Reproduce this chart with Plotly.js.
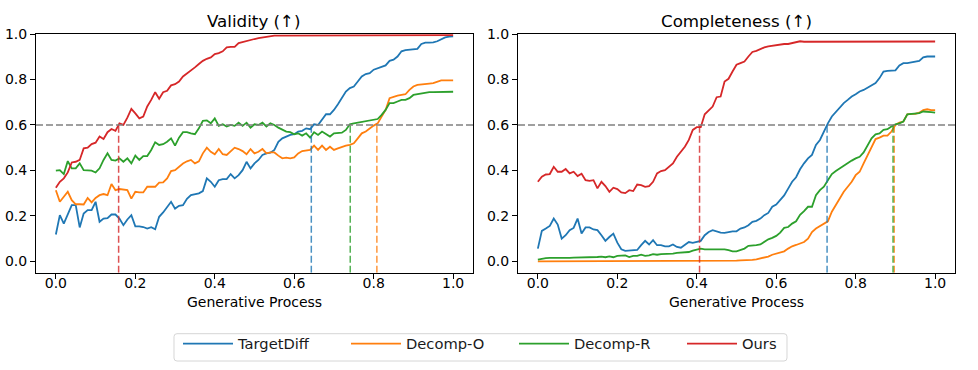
<!DOCTYPE html>
<html>
<head>
<meta charset="utf-8">
<script src="https://cdn.plot.ly/plotly-3.0.1.min.js"></script>
<style>html,body{margin:0;padding:0;background:#fff;}#chart{width:978px;height:370px;}</style>
</head>
<body>
<div id="chart"></div>
<script>
// Generative process steps
var steps = [0,0.01,0.02,0.03,0.04,0.05,0.06,0.07,0.08,0.09,0.1,0.11,0.12,0.13,0.14,0.15,0.16,0.17,0.18,0.19,0.2,0.21,0.22,0.23,0.24,0.25,0.26,0.27,0.28,0.29,0.3,0.31,0.32,0.33,0.34,0.35,0.36,0.37,0.38,0.39,0.4,0.41,0.42,0.43,0.44,0.45,0.46,0.47,0.48,0.49,0.5,0.51,0.52,0.53,0.54,0.55,0.56,0.57,0.58,0.59,0.6,0.61,0.62,0.63,0.64,0.65,0.66,0.67,0.68,0.69,0.7,0.71,0.72,0.73,0.74,0.75,0.76,0.77,0.78,0.79,0.8,0.81,0.82,0.83,0.84,0.85,0.86,0.87,0.88,0.89,0.9,0.91,0.92,0.93,0.94,0.95,0.96,0.97,0.98,0.99,1.0];

var methods = ["TargetDiff", "Decomp-O", "Decomp-R", "Ours"];
var colors = ["#1f77b4", "#ff7f0e", "#2ca02c", "#d62728"];

// Validity
var validityTargetDiff = [0.118,0.203,0.166,0.21,0.247,0.247,0.149,0.21,0.225,0.225,0.262,0.174,0.188,0.19,0.206,0.206,0.188,0.159,0.184,0.203,0.154,0.154,0.151,0.144,0.15,0.141,0.196,0.215,0.24,0.262,0.232,0.244,0.247,0.275,0.291,0.294,0.299,0.309,0.365,0.35,0.328,0.357,0.362,0.362,0.384,0.365,0.379,0.401,0.438,0.409,0.431,0.446,0.468,0.475,0.478,0.49,0.526,0.541,0.549,0.556,0.559,0.571,0.574,0.585,0.581,0.603,0.6,0.625,0.647,0.647,0.666,0.691,0.718,0.747,0.762,0.769,0.791,0.813,0.824,0.828,0.843,0.85,0.857,0.862,0.882,0.887,0.901,0.924,0.929,0.931,0.932,0.935,0.956,0.962,0.962,0.963,0.968,0.975,0.985,0.988,0.99];
var validityDecompO = [0.313,0.262,0.284,0.306,0.269,0.251,0.251,0.25,0.279,0.259,0.279,0.291,0.296,0.291,0.34,0.313,0.318,0.316,0.313,0.276,0.306,0.303,0.303,0.328,0.328,0.328,0.346,0.347,0.365,0.397,0.401,0.416,0.43,0.44,0.446,0.431,0.44,0.475,0.5,0.482,0.471,0.494,0.471,0.468,0.482,0.5,0.494,0.485,0.471,0.494,0.475,0.482,0.494,0.475,0.479,0.479,0.465,0.453,0.456,0.453,0.457,0.475,0.485,0.487,0.49,0.509,0.49,0.509,0.49,0.504,0.49,0.497,0.504,0.509,0.512,0.519,0.541,0.563,0.571,0.585,0.597,0.607,0.637,0.666,0.718,0.725,0.729,0.732,0.735,0.754,0.769,0.776,0.779,0.781,0.782,0.784,0.791,0.796,0.796,0.796,0.796];
var validityDecompR = [0.399,0.401,0.384,0.441,0.409,0.409,0.431,0.401,0.4,0.399,0.391,0.409,0.446,0.475,0.446,0.443,0.453,0.438,0.453,0.431,0.465,0.446,0.463,0.463,0.49,0.524,0.512,0.515,0.526,0.541,0.509,0.544,0.568,0.568,0.563,0.559,0.585,0.618,0.62,0.607,0.629,0.596,0.603,0.593,0.6,0.596,0.61,0.596,0.61,0.588,0.603,0.6,0.61,0.593,0.607,0.6,0.588,0.578,0.571,0.568,0.559,0.563,0.553,0.563,0.544,0.568,0.556,0.571,0.559,0.549,0.563,0.563,0.566,0.578,0.603,0.607,0.61,0.612,0.615,0.618,0.622,0.626,0.644,0.666,0.696,0.696,0.703,0.71,0.71,0.718,0.732,0.735,0.74,0.743,0.744,0.744,0.745,0.746,0.746,0.746,0.746];
var validityOurs = [0.324,0.35,0.365,0.391,0.435,0.438,0.446,0.497,0.5,0.516,0.522,0.549,0.538,0.568,0.582,0.574,0.607,0.6,0.632,0.671,0.651,0.629,0.637,0.681,0.71,0.744,0.715,0.744,0.75,0.774,0.779,0.791,0.813,0.825,0.838,0.853,0.868,0.882,0.891,0.897,0.912,0.916,0.924,0.941,0.943,0.943,0.96,0.965,0.971,0.975,0.978,0.982,0.985,0.985,0.99,0.993,0.993,0.993,0.996,0.995,0.994,0.995,0.996,0.994,0.995,0.993,0.995,0.996,0.995,0.994,0.995,0.995,0.994,0.996,0.995,0.995,0.994,0.995,0.996,0.995,0.994,0.995,0.995,0.996,0.994,0.995,0.995,0.996,0.995,0.994,0.995,0.995,0.996,0.995,0.994,0.995,0.995,0.996,0.995,0.995,0.995];

// Completeness
var completenessTargetDiff = [0.056,0.134,0.144,0.156,0.188,0.162,0.1,0.115,0.137,0.147,0.188,0.122,0.149,0.149,0.14,0.137,0.115,0.09,0.107,0.122,0.082,0.053,0.046,0.047,0.049,0.05,0.071,0.09,0.074,0.093,0.071,0.071,0.066,0.066,0.074,0.063,0.06,0.071,0.085,0.081,0.085,0.09,0.115,0.129,0.137,0.132,0.126,0.125,0.129,0.132,0.132,0.144,0.149,0.159,0.174,0.178,0.188,0.203,0.213,0.24,0.25,0.269,0.29,0.32,0.35,0.37,0.405,0.431,0.453,0.468,0.512,0.534,0.571,0.607,0.637,0.656,0.674,0.696,0.71,0.725,0.735,0.747,0.754,0.765,0.774,0.784,0.806,0.835,0.838,0.838,0.84,0.862,0.872,0.872,0.875,0.879,0.882,0.897,0.901,0.901,0.901];
var completenessDecompO = [0,0,0,0,0,0,0,0,0,0,0,0,0,0,0,0,0,0,0,0,0,0,0,0,0,0,0,0.001,0.001,0.001,0.001,0.001,0.001,0.001,0.001,0.001,0.001,0.001,0.001,0.001,0.001,0.001,0.002,0.002,0.002,0.003,0.003,0.003,0.003,0.003,0.003,0.004,0.004,0.005,0.006,0.009,0.012,0.015,0.021,0.029,0.034,0.036,0.044,0.056,0.066,0.072,0.078,0.085,0.1,0.129,0.144,0.156,0.166,0.176,0.218,0.247,0.276,0.306,0.328,0.35,0.379,0.394,0.431,0.468,0.504,0.538,0.544,0.553,0.553,0.571,0.6,0.61,0.615,0.647,0.649,0.649,0.654,0.665,0.669,0.665,0.665];
var completenessDecompR = [0.007,0.012,0.014,0.015,0.015,0.014,0.015,0.012,0.015,0.016,0.016,0.016,0.018,0.019,0.019,0.019,0.021,0.018,0.022,0.018,0.024,0.026,0.026,0.019,0.024,0.024,0.029,0.024,0.026,0.032,0.029,0.032,0.032,0.034,0.034,0.037,0.038,0.041,0.041,0.047,0.053,0.056,0.053,0.053,0.051,0.051,0.053,0.053,0.049,0.044,0.044,0.049,0.056,0.068,0.068,0.071,0.074,0.085,0.097,0.103,0.112,0.126,0.147,0.151,0.166,0.176,0.205,0.221,0.24,0.24,0.291,0.313,0.328,0.357,0.384,0.397,0.409,0.421,0.431,0.443,0.453,0.46,0.479,0.512,0.541,0.559,0.563,0.578,0.581,0.593,0.603,0.607,0.615,0.647,0.649,0.649,0.652,0.659,0.659,0.656,0.654];
var completenessOurs = [0.35,0.372,0.382,0.384,0.416,0.394,0.394,0.406,0.387,0.394,0.375,0.385,0.357,0.354,0.357,0.321,0.35,0.331,0.306,0.324,0.318,0.303,0.3,0.313,0.309,0.338,0.335,0.328,0.331,0.35,0.387,0.397,0.401,0.415,0.431,0.46,0.482,0.504,0.534,0.578,0.59,0.59,0.647,0.666,0.681,0.722,0.725,0.791,0.803,0.835,0.865,0.872,0.879,0.901,0.921,0.926,0.934,0.941,0.946,0.949,0.95,0.953,0.956,0.956,0.959,0.963,0.968,0.966,0.966,0.967,0.966,0.967,0.967,0.966,0.967,0.967,0.968,0.967,0.967,0.967,0.968,0.967,0.967,0.967,0.967,0.968,0.967,0.967,0.967,0.967,0.967,0.968,0.967,0.967,0.967,0.966,0.967,0.967,0.967,0.967,0.967];

// Step at which each method first reaches the threshold
var threshold = 0.6;
var validityReach = [0.643, 0.808, 0.741, 0.158];
var completenessReach = [0.728, 0.897, 0.894, 0.407];

var validitySeries = [validityTargetDiff, validityDecompO, validityDecompR, validityOurs];
var completenessSeries = [completenessTargetDiff, completenessDecompO, completenessDecompR, completenessOurs];

var traces = [];
for (var i = 0; i < methods.length; i++) {
  traces.push({x: steps, y: validitySeries[i], type: 'scatter', mode: 'lines', name: methods[i],
    line: {color: colors[i], width: 1.8}, xaxis: 'x', yaxis: 'y', legendgroup: methods[i]});
}
for (var i = 0; i < methods.length; i++) {
  traces.push({x: steps, y: completenessSeries[i], type: 'scatter', mode: 'lines', name: methods[i],
    line: {color: colors[i], width: 1.8}, xaxis: 'x2', yaxis: 'y2', legendgroup: methods[i], showlegend: false});
}

var W = 978, H = 370;
var shapes = [];
function addThresholdShapes(xr, yr, reach) {
  shapes.push({type: 'line', xref: xr, yref: yr, x0: -0.05, x1: 1.05, y0: threshold, y1: threshold,
    line: {color: '#808080', width: 1.5, dash: '7px,3px'}});
  for (var i = 0; i < reach.length; i++) {
    shapes.push({type: 'line', xref: xr, yref: yr, x0: reach[i], x1: reach[i], y0: -0.05, y1: threshold,
      opacity: 0.8, line: {color: colors[i], width: 1.5, dash: '7px,3px'}});
  }
}
addThresholdShapes('x', 'y', validityReach);
addThresholdShapes('x2', 'y2', completenessReach);

// Legend frame (rounded box) in pixel space
(function () {
  var L = 174, R = 787, T = 333.7, B = 361, r = 3;
  function px(v) { return (v / W).toFixed(5); }
  function py(v) { return (1 - v / H).toFixed(5); }
  var p = 'M' + px(L + r) + ',' + py(T) + ' L' + px(R - r) + ',' + py(T) +
    ' Q' + px(R) + ',' + py(T) + ' ' + px(R) + ',' + py(T + r) +
    ' L' + px(R) + ',' + py(B - r) + ' Q' + px(R) + ',' + py(B) + ' ' + px(R - r) + ',' + py(B) +
    ' L' + px(L + r) + ',' + py(B) + ' Q' + px(L) + ',' + py(B) + ' ' + px(L) + ',' + py(B - r) +
    ' L' + px(L) + ',' + py(T + r) + ' Q' + px(L) + ',' + py(T) + ' ' + px(L + r) + ',' + py(T) + ' Z';
  shapes.push({type: 'path', xref: 'paper', yref: 'paper', path: p, line: {color: '#d6d6d6', width: 1}, fillcolor: 'rgba(255,255,255,0)'});
})();

var tickFont = {family: 'DejaVu Sans', size: 14, color: '#000'};
function xAxis(domain, anchor) {
  return {domain: domain, anchor: anchor, range: [-0.05, 1.05], tickvals: [0, 0.2, 0.4, 0.6, 0.8, 1.0],
    tickformat: '.1f', ticks: 'outside', ticklen: 5, tickcolor: '#000', tickwidth: 1, ticklabelstandoff: -8,
    showline: true, mirror: true, linecolor: '#000', linewidth: 1, showgrid: false, zeroline: false, tickfont: tickFont};
}
function yAxis(domain, anchor) {
  return {domain: domain, anchor: anchor, range: [-0.05, 1.0], tickvals: [0, 0.2, 0.4, 0.6, 0.8, 1.0],
    tickformat: '.1f', ticks: 'outside', ticklen: 5, tickcolor: '#000', tickwidth: 1,
    showline: true, mirror: true, linecolor: '#000', linewidth: 1, showgrid: false, zeroline: false, tickfont: tickFont};
}

var yDom = [1 - 272.7 / H, 1 - 34 / H];
var layout = {
  width: W, height: H,
  margin: {l: 0, r: 0, t: 0, b: 0},
  paper_bgcolor: '#fff', plot_bgcolor: '#fff',
  font: {family: 'DejaVu Sans', color: '#000'},
  showlegend: true,
  xaxis: xAxis([36 / W, 473 / W], 'y'),
  yaxis: yAxis(yDom, 'x'),
  xaxis2: xAxis([518 / W, 955 / W], 'y2'),
  yaxis2: yAxis(yDom, 'x2'),
  shapes: shapes,
  annotations: [
    {text: 'Validity (↑)', xref: 'paper', yref: 'paper', x: 254.5 / W, y: 1 - 21 / H, xanchor: 'center', yanchor: 'middle', showarrow: false, font: {size: 16.7}},
    {text: 'Completeness (↑)', xref: 'paper', yref: 'paper', x: 736.5 / W, y: 1 - 21 / H, xanchor: 'center', yanchor: 'middle', showarrow: false, font: {size: 16.7}},
    {text: 'Generative Process', xref: 'paper', yref: 'paper', x: 254.5 / W, y: 1 - 302 / H, xanchor: 'center', yanchor: 'middle', showarrow: false, font: {size: 14}},
    {text: 'Generative Process', xref: 'paper', yref: 'paper', x: 736.5 / W, y: 1 - 302 / H, xanchor: 'center', yanchor: 'middle', showarrow: false, font: {size: 14}}
  ],
  legend: {orientation: 'h', x: 178 / W, xanchor: 'left', y: 1 - 327.5 / H, yanchor: 'top',
    borderwidth: 0, bgcolor: 'rgba(255,255,255,0)', font: {size: 14.7, color: '#1a1a1a'},
    itemwidth: 50, entrywidth: 103, entrywidthmode: 'pixels', traceorder: 'normal'}
};

Plotly.newPlot('chart', traces, layout, {displayModeBar: false, staticPlot: true});
</script>
</body>
</html>
